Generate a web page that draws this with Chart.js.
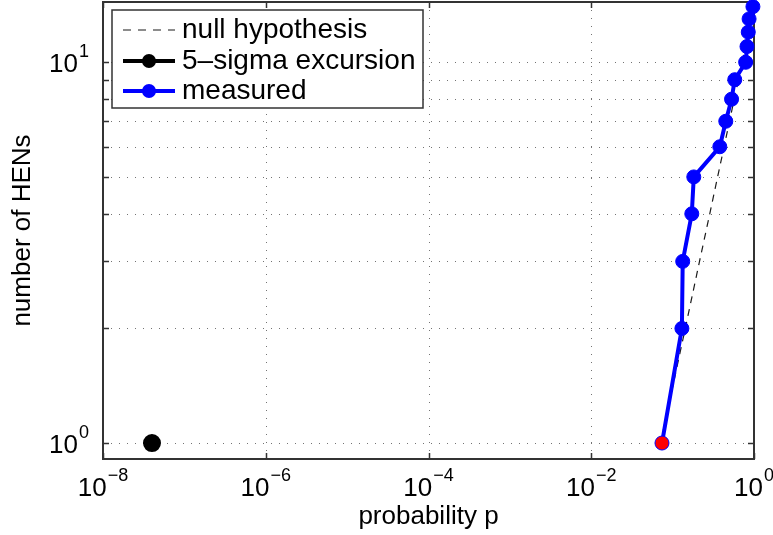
<!DOCTYPE html>
<html>
<head>
<meta charset="utf-8">
<script src="https://cdn.jsdelivr.net/npm/chart.js@4.4.0/dist/chart.umd.min.js"></script>
<style>
  html, body { margin: 0; padding: 0; background: #fff; }
  #wrap { width: 773px; height: 535px; }
</style>
</head>
<body>
<div id="wrap"><canvas id="chart" width="773" height="535"></canvas></div>
<script>
// ---- data ----
const hens = [1, 2, 3, 4, 5, 6, 7, 8, 9, 10, 11, 12, 13, 14];
const measuredP = [0.074, 0.130, 0.133, 0.172, 0.182, 0.38, 0.45, 0.53, 0.58, 0.79, 0.82, 0.85, 0.87, 0.97];
const nullP = [0.071, 0.143, 0.214, 0.286, 0.357, 0.429, 0.5, 0.571, 0.643, 0.714, 0.786, 0.857, 0.929, 1.0];
const sigmaP = [4e-8];
const sigmaN = [1];
const xTicks = [1e-8, 1e-6, 1e-4, 1e-2, 1e0];
const xTickExp = ['\u22128', '\u22126', '\u22124', '\u22122', '0'];
const yGrid = [1, 2, 3, 4, 5, 6, 7, 8, 9, 10];
const yTicks = [1, 10];
const yTickExp = ['0', '1'];

const FONT = "'Liberation Sans', Arial, Helvetica, sans-serif";
const BLUE = '#0000ff';
const DASH = '#1a1a1a';

const pts = (xs, ys) => xs.map((x, i) => ({ x: x, y: ys[i] }));

// ---- axes decoration: frame, dotted grid, inward ticks, 10^n labels ----
const axesPlugin = {
  id: 'axesDeco',
  beforeDatasetsDraw(chart) {
    const { ctx, chartArea: a, scales: { x, y } } = chart;
    ctx.save();
    // dotted grid
    ctx.strokeStyle = 'rgba(0,0,0,0.55)';
    ctx.lineWidth = 1;
    ctx.setLineDash([1, 7]);
    yGrid.forEach(v => {
      const py = Math.round(y.getPixelForValue(v)) + 0.5;
      ctx.beginPath(); ctx.moveTo(a.left, py); ctx.lineTo(a.right, py); ctx.stroke();
    });
    xTicks.forEach(v => {
      const px = Math.round(x.getPixelForValue(v)) + 0.5;
      ctx.beginPath(); ctx.moveTo(px, a.top); ctx.lineTo(px, a.bottom); ctx.stroke();
    });
    ctx.setLineDash([]);
    // frame
    ctx.strokeStyle = '#333';
    ctx.lineWidth = 2;
    ctx.strokeRect(a.left, a.top, a.right - a.left, a.bottom - a.top);
    // inward ticks
    ctx.lineWidth = 1.5;
    yGrid.forEach(v => {
      const py = Math.round(y.getPixelForValue(v)) + 0.5;
      ctx.beginPath();
      ctx.moveTo(a.left, py); ctx.lineTo(a.left + 6, py);
      ctx.moveTo(a.right, py); ctx.lineTo(a.right - 6, py);
      ctx.stroke();
    });
    xTicks.forEach(v => {
      const px = Math.round(x.getPixelForValue(v)) + 0.5;
      ctx.beginPath();
      ctx.moveTo(px, a.bottom); ctx.lineTo(px, a.bottom - 6);
      ctx.moveTo(px, a.top); ctx.lineTo(px, a.top + 6);
      ctx.stroke();
    });
    // tick labels
    ctx.fillStyle = '#000';
    ctx.textBaseline = 'alphabetic';
    ctx.textAlign = 'left';
    const measure = (t, s) => { ctx.font = s + 'px ' + FONT; return ctx.measureText(t).width; };
    const drawPow = (exp, left, base) => {
      const wb = measure('10', 26);
      ctx.font = '26px ' + FONT;
      ctx.fillText('10', left, base);
      ctx.font = '18px ' + FONT;
      ctx.fillText(exp, left + wb + 1, base - 15);
    };
    xTicks.forEach((v, i) => {
      const px = x.getPixelForValue(v);
      const w = measure('10', 26) + 1 + measure(xTickExp[i], 18);
      drawPow(xTickExp[i], px - w / 2, a.bottom + 37);
    });
    yTicks.forEach((v, i) => {
      const py = y.getPixelForValue(v);
      const w = measure('10', 26) + 1 + measure(yTickExp[i], 18);
      drawPow(yTickExp[i], 89 - w, py + 10);
    });
    ctx.restore();
  },
  afterDraw(chart) {
    // legend box in the upper left corner
    const { ctx } = chart;
    const box = { x: 112, y: 10, w: 311, h: 98 };
    ctx.save();
    ctx.fillStyle = '#fff';
    ctx.fillRect(box.x, box.y, box.w, box.h);
    ctx.strokeStyle = '#333';
    ctx.lineWidth = 1.5;
    ctx.strokeRect(box.x, box.y, box.w, box.h);
    const rows = [
      { text: 'null hypothesis', color: DASH, width: 1.2, dash: [8, 7], marker: null },
      { text: '5\u2013sigma excursion', color: '#000', width: 4, dash: [], marker: '#000' },
      { text: 'measured', color: BLUE, width: 4, dash: [], marker: BLUE }
    ];
    const rowY = [30, 61, 91];
    rows.forEach((r, i) => {
      const yy = rowY[i];
      ctx.strokeStyle = r.color;
      ctx.lineWidth = r.width;
      ctx.setLineDash(r.dash);
      ctx.beginPath(); ctx.moveTo(123, yy); ctx.lineTo(175, yy); ctx.stroke();
      ctx.setLineDash([]);
      if (r.marker) {
        ctx.fillStyle = r.marker;
        ctx.beginPath(); ctx.arc(149, yy, 7, 0, Math.PI * 2); ctx.fill();
      }
      ctx.fillStyle = '#000';
      ctx.font = '28px ' + FONT;
      ctx.textBaseline = 'middle';
      ctx.textAlign = 'left';
      ctx.fillText(r.text, 182, yy);
    });
    ctx.restore();
  }
};

new Chart(document.getElementById('chart'), {
  type: 'line',
  data: {
    datasets: [
      {
        label: 'measured',
        data: pts(measuredP, hens),
        borderColor: BLUE,
        borderWidth: 4,
        pointRadius: 7,
        pointHoverRadius: 7,
        pointBackgroundColor: hens.map((n, i) => i === 0 ? '#ff0000' : BLUE),
        pointBorderColor: BLUE,
        pointBorderWidth: 1,
        tension: 0,
        clip: false
      },
      {
        label: '5\u2013sigma excursion',
        data: pts(sigmaP, sigmaN),
        borderColor: '#000',
        borderWidth: 4,
        showLine: false,
        pointRadius: 7,
        pointBackgroundColor: '#000',
        pointBorderColor: '#000',
        clip: false
      },
      {
        label: 'null hypothesis',
        data: pts(nullP, hens),
        borderColor: DASH,
        borderWidth: 1.2,
        borderDash: [7, 6],
        pointRadius: 0,
        tension: 0,
        clip: false
      }
    ]
  },
  options: {
    responsive: false,
    animation: false,
    devicePixelRatio: 1,
    layout: { autoPadding: false, padding: { left: 0, right: 19, top: 2, bottom: 0 } },
    plugins: { legend: { display: false }, tooltip: { enabled: false } },
    scales: {
      x: {
        type: 'logarithmic',
        min: 1e-8,
        max: 1,
        grid: { display: false },
        border: { display: false },
        ticks: { display: false },
        title: { display: true, text: 'probability p', color: '#000',
                 font: { family: FONT, size: 26 }, padding: { top: 0, bottom: 3 } },
        afterFit: s => { s.height = 76; }
      },
      y: {
        type: 'logarithmic',
        min: 0.908,
        max: 14.4,
        grid: { display: false },
        border: { display: false },
        ticks: { display: false },
        title: { display: true, text: 'number of HENs', color: '#000',
                 font: { family: FONT, size: 26 }, padding: { top: 7, bottom: 0 } },
        afterFit: s => { s.width = 103; }
      }
    }
  },
  plugins: [axesPlugin]
});
</script>
</body>
</html>
